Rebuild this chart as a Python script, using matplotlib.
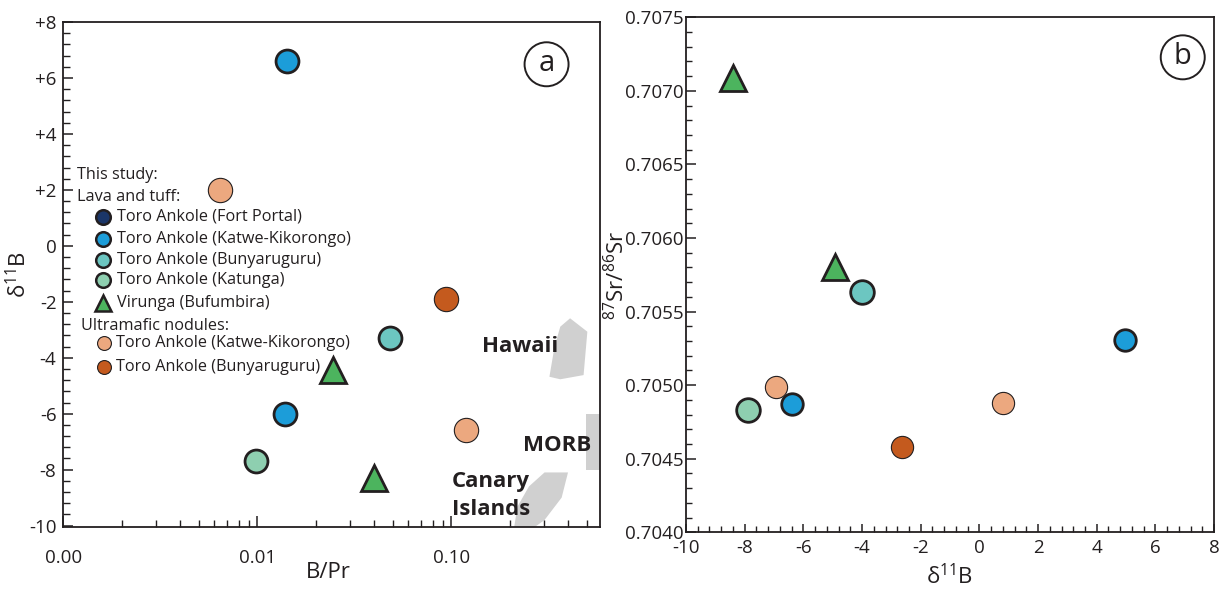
import numpy as np
import matplotlib
matplotlib.use('Agg')
import matplotlib.pyplot as plt
from matplotlib.patches import Polygon, Ellipse, Rectangle
from matplotlib.ticker import LogLocator, NullFormatter, MultipleLocator

# ---------------------------------------------------------------------------
# Data
# Panel a: B/Pr vs d11B
katwe_bpr = [0.0142, 0.0138]
katwe_d11b_a = [6.6, -6.0]
bunya_bpr = [0.0484]
bunya_d11b_a = [-3.3]
katunga_bpr = [0.0098]
katunga_d11b_a = [-7.7]
virunga_bpr = [0.0246, 0.0397]
virunga_d11b_a = [-4.44, -8.31]
umkatwe_bpr = [0.0064, 0.119]
umkatwe_d11b_a = [2.0, -6.6]
umbunya_bpr = [0.0935]
umbunya_d11b_a = [-1.9]

# Panel b: d11B vs 87Sr/86Sr
katwe_d11b_b = [4.95, -6.4]
katwe_sr = [0.70531, 0.70487]
bunya_d11b_b = [-4.0]
bunya_sr = [0.70563]
katunga_d11b_b = [-7.9]
katunga_sr = [0.70483]
virunga_d11b_b = [-8.4, -4.92]
virunga_sr = [0.70709, 0.70580]
umkatwe_d11b_b = [-6.95, 0.8]
umkatwe_sr = [0.70499, 0.70488]
umbunya_d11b_b = [-2.65]
umbunya_sr = [0.70458]

# Reference fields (B/Pr, d11B)
hawaii_bpr = [0.409, 0.502, 0.48, 0.364, 0.32, 0.34, 0.364]
hawaii_d11b = [-2.59, -3.07, -4.62, -4.77, -4.68, -3.61, -2.89]
canary_bpr = [0.302, 0.399, 0.37, 0.302, 0.251, 0.209, 0.219, 0.251]
canary_d11b = [-8.1, -8.1, -9.0, -9.8, -10.2, -10.2, -9.32, -8.6]
morb_bpr = [0.496, 0.6]
morb_d11b = [-8.0, -6.0]

# Ticks
yticks_a = [8, 6, 4, 2, 0, -2, -4, -6, -8, -10]
ytick_labels_a = ['+8', '+6', '+4', '+2', '0', '-2', '-4', '-6', '-8', '-10']
xticks_a = [0.001, 0.01, 0.1]
xtick_labels_a = ['0.00', '0.01', '0.10']
xticks_b = [-10, -8, -6, -4, -2, 0, 2, 4, 6, 8]
xtick_labels_b = ['-10', '-8', '-6', '-4', '-2', '0', '2', '4', '6', '8']
yticks_b = [0.7040, 0.7045, 0.7050, 0.7055, 0.7060, 0.7065, 0.7070, 0.7075]
ytick_labels_b = ['%.4f' % v for v in yticks_b]

# ---------------------------------------------------------------------------
plt.rcParams['font.family'] = ['Open Sans', 'DejaVu Sans']
plt.rcParams['mathtext.fontset'] = 'custom'
plt.rcParams['mathtext.rm'] = 'Open Sans'

ink = '#231f20'
c_fort = '#1b3668'
c_katwe = '#1c9dd9'
c_bunya = '#6cc6c1'
c_katunga = '#8ecfb0'
c_virunga = '#4cb45e'
c_umkatwe = '#eca87f'
c_umbunya = '#c45a1e'
c_field = '#d0d0d0'

fsize = 16
tsize = 13.5
lsize = 11.7

fig = plt.figure(figsize=(12.22, 5.89), dpi=100)
ax1 = fig.add_axes([0.0519, 0.1048, 0.4393, 0.8578])
ax2 = fig.add_axes([0.5614, 0.0963, 0.4321, 0.8743])

lava = dict(linestyle='none', marker='o', markersize=16.5, markeredgewidth=2.0,
            markeredgecolor=ink, zorder=5)
tri = dict(linestyle='none', marker='^', markersize=19, markeredgewidth=2.0,
           markeredgecolor=ink, zorder=5)
ultra = dict(linestyle='none', marker='o', markersize=17.5, markeredgewidth=0.8,
             markeredgecolor=ink, zorder=5)

# ---------------------------------------------------------------------------
# Panel a
ax1.set_xscale('log')
ax1.add_patch(Polygon(np.column_stack([hawaii_bpr, hawaii_d11b]), closed=True,
                      facecolor=c_field, edgecolor='none', zorder=1))
ax1.add_patch(Polygon(np.column_stack([canary_bpr, canary_d11b]), closed=True,
                      facecolor=c_field, edgecolor='none', zorder=1))
ax1.add_patch(Rectangle((morb_bpr[0], morb_d11b[0]), morb_bpr[1] - morb_bpr[0],
                        morb_d11b[1] - morb_d11b[0], facecolor=c_field,
                        edgecolor='none', zorder=1))

ax1.plot(virunga_bpr, virunga_d11b_a, color=c_virunga, **tri)
ax1.plot(katwe_bpr, katwe_d11b_a, color=c_katwe, **lava)
ax1.plot(bunya_bpr, bunya_d11b_a, color=c_bunya, **lava)
ax1.plot(katunga_bpr, katunga_d11b_a, color=c_katunga, **lava)
ax1.plot(umkatwe_bpr, umkatwe_d11b_a, color=c_umkatwe, **ultra)
ax1.plot(umbunya_bpr, umbunya_d11b_a, color=c_umbunya, **ultra)

ax1.text(0.1445, -3.61, 'Hawaii', fontsize=fsize, fontweight='bold', color=ink,
         ha='left', va='center', zorder=6)
ax1.text(0.234, -7.15, 'MORB', fontsize=fsize, fontweight='bold', color=ink,
         ha='left', va='center', zorder=6)
ax1.text(0.1003, -8.43, 'Canary', fontsize=fsize, fontweight='bold', color=ink,
         ha='left', va='center', zorder=6)
ax1.text(0.1003, -9.44, 'Islands', fontsize=fsize, fontweight='bold', color=ink,
         ha='left', va='center', zorder=6)

ax1.set_xlim(0.001, 0.585)
ax1.set_ylim(-10.06, 8.0)
ax1.set_xticks(xticks_a, labels=xtick_labels_a)
ax1.xaxis.set_minor_locator(LogLocator(base=10, subs=np.arange(2, 10)))
ax1.xaxis.set_minor_formatter(NullFormatter())
ax1.set_yticks(yticks_a, labels=ytick_labels_a)
ax1.yaxis.set_minor_locator(MultipleLocator(0.4))
ax1.tick_params(axis='x', which='major', direction='in', length=8, width=1.1,
                pad=16, labelsize=tsize, colors=ink)
ax1.tick_params(axis='y', which='major', direction='in', length=7, width=1.1,
                pad=5, labelsize=tsize, colors=ink)
ax1.tick_params(which='minor', direction='in', length=5, width=1.0, colors=ink)
ax1.set_xlabel('B/Pr', fontsize=fsize, color=ink)
ax1.set_ylabel(r'δ$\mathregular{^{11}}$B', fontsize=fsize, color=ink)
ax1.xaxis.set_label_coords(0.494, -0.069)
ax1.yaxis.set_label_coords(-0.060, 0.5)

# Legend (drawn by hand, as in the original)
def leg_marker(ax, x, y, color, marker, ms, lw):
    ax.plot([x], [y], transform=ax.transAxes, linestyle='none', marker=marker,
            markersize=ms, markerfacecolor=color, markeredgecolor=ink,
            markeredgewidth=lw, clip_on=False, zorder=6)

ax1.text(0.0259, 0.6972, 'This study:', transform=ax1.transAxes, fontsize=lsize,
         color=ink, va='center')
ax1.text(0.0259, 0.6543, 'Lava and tuff:', transform=ax1.transAxes, fontsize=lsize,
         color=ink, va='center')
lava_rows = [('Toro Ankole (Fort Portal)', c_fort, 'o', 0.6143),
             ('Toro Ankole (Katwe-Kikorongo)', c_katwe, 'o', 0.5713),
             ('Toro Ankole (Bunyaruguru)', c_bunya, 'o', 0.5298),
             ('Toro Ankole (Katunga)', c_katunga, 'o', 0.4888),
             ('Virunga (Bufumbira)', c_virunga, '^', 0.4445)]
for name, col, mk, yy in lava_rows:
    leg_marker(ax1, 0.0743, yy, col, mk, 10.5 if mk == 'o' else 12, 1.8)
    ax1.text(0.0993, yy, name, transform=ax1.transAxes, fontsize=lsize,
             color=ink, va='center')
ax1.text(0.0322, 0.399, 'Ultramafic nodules:', transform=ax1.transAxes,
         fontsize=lsize, color=ink, va='center')
ultra_rows = [('Toro Ankole (Katwe-Kikorongo)', c_umkatwe, 0.3641),
              ('Toro Ankole (Bunyaruguru)', c_umbunya, 0.3178)]
for name, col, yy in ultra_rows:
    leg_marker(ax1, 0.0756, yy, col, 'o', 10, 0.8)
    ax1.text(0.098, yy, name, transform=ax1.transAxes, fontsize=lsize,
             color=ink, va='center')

# Panel label
ax1.add_patch(Ellipse((0.9, 0.9164), 44 / 536.9, 44 / 505.3,
                      transform=ax1.transAxes, facecolor='white', edgecolor=ink,
                      linewidth=1.4, zorder=6))
ax1.text(0.9, 0.9184, 'a', transform=ax1.transAxes, fontsize=21, color=ink,
         ha='center', va='center', zorder=7)

# ---------------------------------------------------------------------------
# Panel b
ax2.plot(virunga_d11b_b, virunga_sr, color=c_virunga, **tri)
ax2.plot(katwe_d11b_b, katwe_sr, color=c_katwe, **dict(lava, markersize=15.5))
ax2.plot(bunya_d11b_b, bunya_sr, color=c_bunya, **dict(lava, markersize=17))
ax2.plot(katunga_d11b_b, katunga_sr, color=c_katunga, **dict(lava, markersize=17))
ax2.plot(umkatwe_d11b_b, umkatwe_sr, color=c_umkatwe, **dict(ultra, markersize=16))
ax2.plot(umbunya_d11b_b, umbunya_sr, color=c_umbunya, **dict(ultra, markersize=16))

ax2.set_xlim(-10, 8)
ax2.set_ylim(0.7040, 0.7075)
ax2.set_xticks(xticks_b, labels=xtick_labels_b)
ax2.xaxis.set_minor_locator(MultipleLocator(0.4))
ax2.set_yticks(yticks_b, labels=ytick_labels_b)
ax2.yaxis.set_minor_locator(MultipleLocator(0.0001))
ax2.tick_params(axis='x', which='major', direction='in', length=6, width=1.1,
                pad=5, labelsize=tsize, colors=ink)
ax2.tick_params(axis='y', which='major', direction='in', length=7, width=1.1,
                pad=2, labelsize=tsize, colors=ink)
ax2.tick_params(which='minor', direction='in', length=4.5, width=1.0, colors=ink)
ax2.set_xlabel(r'δ$\mathregular{^{11}}$B', fontsize=fsize, color=ink)
ax2.set_ylabel(r'$\mathregular{^{87}}$Sr/$\mathregular{^{86}}$Sr', fontsize=fsize,
               color=ink)
ax2.xaxis.set_label_coords(0.5, -0.062)
ax2.yaxis.set_label_coords(-0.108, 0.5)

ax2.add_patch(Ellipse((0.9407, 0.9223), 44 / 528, 44 / 515,
                      transform=ax2.transAxes, facecolor='white', edgecolor=ink,
                      linewidth=1.4, zorder=6))
ax2.text(0.9407, 0.9243, 'b', transform=ax2.transAxes, fontsize=21, color=ink,
         ha='center', va='center', zorder=7)

for ax in (ax1, ax2):
    for sp in ax.spines.values():
        sp.set_linewidth(1.3)
        sp.set_color(ink)

plt.savefig('out.png', dpi=100)
plt.close()
